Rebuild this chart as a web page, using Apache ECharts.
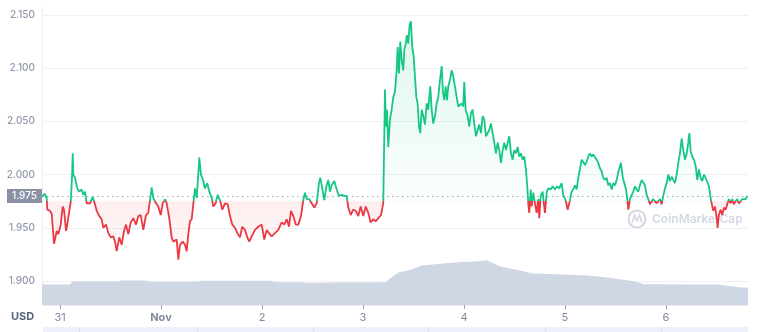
<!DOCTYPE html>
<html><head><meta charset="utf-8">
<script src="https://cdn.jsdelivr.net/npm/echarts@6/dist/echarts.min.js"></script>
<style>html,body{margin:0;padding:0;background:#fff}#c{width:761px;height:332px}</style>
</head><body><div id="c"></div>
<script>
// hours offset from Oct 31 00:00 (local)
const hours = [-4.28,-3.64,-3.16,-3.02,-2.38,-1.97,-1.43,-0.78,-0.40,0.17,0.64,0.95,1.43,1.73,2.21,2.54,2.85,3.02,3.16,3.56,4.11,4.59,5.16,5.54,5.94,6.34,7.13,7.77,8.32,8.72,9.34,9.91,10.29,10.93,11.48,12.05,12.67,13.07,13.47,14.09,14.66,15.21,15.68,16.23,16.80,17.42,18.06,18.61,19.18,19.79,20.44,20.98,21.39,21.79,22.17,22.81,23.36,23.93,24.40,24.95,25.35,25.97,26.54,26.92,27.73,28.11,28.51,29.16,29.70,30.11,30.49,30.89,
31.29,31.67,32.08,32.48,32.86,33.10,33.50,34.05,34.45,35.00,35.48,36.05,36.43,37.00,37.47,38.02,38.57,39.21,39.85,40.40,40.94,41.58,42.13,42.77,43.32,43.96,44.51,44.98,45.55,46.34,47.12,47.93,48.55,49.12,49.66,50.30,51.09,51.87,52.68,53.30,53.87,54.42,54.89,55.44,56.01,56.63,57.27,57.81,58.22,58.62,59.17,59.81,60.43,61.00,61.54,61.85,62.33,62.80,63.37,63.75,64.16,64.56,65.18,65.75,66.30,66.94,67.56,68.12,68.51,69.08,69.69,70.26,70.88,71.45,72.07,72.64,73.26,73.83,74.45,75.02,75.63,76.28,76.82,
77.23,77.46,77.70,78.01,78.41,78.82,79.20,79.60,80.01,80.24,80.55,80.86,81.19,81.57,81.81,82.15,82.45,82.76,83.09,83.40,83.71,84.05,84.36,84.67,84.99,85.31,85.61,85.95,86.33,86.73,87.14,87.52,87.99,88.33,88.70,89.11,89.51,89.89,90.30,90.70,91.01,91.32,91.65,91.96,92.27,92.67,93.08,93.46,93.86,94.26,94.65,95.05,95.45,95.83,96.07,96.40,96.88,97.26,97.66,98.07,98.45,98.85,99.25,99.63,100.04,100.44,100.82,101.23,101.63,102.01,102.41,102.82,103.20,103.60,104.01,104.39,104.79,105.20,105.58,105.98,106.38,106.77,107.17,107.57,107.95,108.36,108.76,109.14,109.55,109.95,110.33,110.73,111.04,111.28,111.52,111.85,112.09,112.47,
112.87,113.27,113.66,113.89,114.23,114.70,115.01,115.25,115.65,116.03,116.60,117.08,117.62,118.17,118.64,119.21,119.59,120.16,120.64,121.19,121.59,121.97,122.37,122.78,123.16,123.56,123.96,124.35,124.75,125.15,125.53,125.94,126.34,126.72,127.13,127.53,127.91,128.31,128.72,129.10,129.50,129.91,130.29,130.69,131.10,131.48,131.88,132.29,132.67,133.07,133.31,133.72,134.10,134.50,134.81,135.05,135.45,135.86,136.24,136.64,137.04,137.42,
137.82,138.23,138.61,139.01,139.42,139.80,140.20,140.61,140.99,141.39,141.80,142.18,142.58,142.98,143.36,143.76,144.17,144.55,144.95,145.36,145.74,146.14,146.55,146.93,147.33,147.74,148.12,148.52,148.93,149.31,149.55,149.88,150.26,150.67,151.07,151.45,151.84,152.24,152.62,153.03,153.43,153.81,154.22,154.62,154.86,155.24,155.64,156.05,156.28,156.59,156.99,157.38,157.78,158.18,158.56,158.97,159.37,159.75,160.16,160.56,160.94,161.34,161.75,162.13,162.53,162.94,163.32];

const prices = [1.979,1.982,1.978,1.967,1.966,1.963,1.935,1.947,1.944,1.953,1.970,1.967,1.947,1.953,1.966,1.974,1.997,2.020,2.000,1.997,1.987,1.984,1.986,1.981,1.984,1.973,1.973,1.979,1.972,1.966,1.961,1.958,1.950,1.953,1.945,1.941,1.942,1.937,1.928,1.941,1.934,1.947,1.953,1.944,1.955,1.959,1.953,1.961,1.962,1.948,1.962,1.964,1.976,1.988,1.978,1.973,1.970,1.962,1.973,1.977,1.973,1.959,1.941,1.937,1.939,1.920,1.934,1.937,1.934,1.928,1.944,1.956,
1.958,1.972,1.987,1.978,2.000,2.016,2.000,1.994,1.987,1.992,1.984,1.978,1.970,1.973,1.981,1.976,1.967,1.973,1.972,1.961,1.953,1.950,1.945,1.941,1.951,1.948,1.941,1.937,1.942,1.948,1.951,1.953,1.939,1.948,1.945,1.942,1.945,1.948,1.955,1.953,1.958,1.951,1.966,1.961,1.953,1.953,1.961,1.976,1.983,1.977,1.977,1.973,1.969,1.973,1.992,1.997,1.987,1.976,1.990,1.995,1.984,1.990,1.994,1.986,1.980,1.981,1.980,1.980,1.969,1.962,1.967,1.966,1.961,1.970,1.961,1.970,1.964,1.955,1.958,1.956,1.959,1.962,1.973,
2.080,2.045,2.061,2.026,2.052,2.061,2.073,2.078,2.098,2.120,2.095,2.125,2.108,2.098,2.117,2.123,2.131,2.123,2.141,2.144,2.120,2.111,2.092,2.073,2.067,2.045,2.039,2.061,2.055,2.047,2.067,2.061,2.083,2.061,2.048,2.055,2.067,2.073,2.089,2.102,2.077,2.070,2.083,2.070,2.083,2.089,2.098,2.092,2.083,2.073,2.064,2.064,2.067,2.064,2.087,2.061,2.055,2.045,2.058,2.061,2.048,2.036,2.042,2.047,2.039,2.055,2.052,2.036,2.036,2.042,2.048,2.039,2.030,2.020,2.030,2.023,2.011,2.023,2.030,2.023,2.030,2.036,2.020,2.014,2.023,2.020,2.026,2.017,2.020,2.014,2.017,2.005,1.989,1.973,1.964,1.986,1.970,1.983,
1.973,1.964,1.977,1.959,1.980,1.984,1.972,1.964,1.983,1.987,1.986,1.989,1.986,1.989,1.987,1.992,1.981,1.976,1.967,1.976,1.984,1.986,1.990,1.986,1.997,2.005,2.014,2.012,2.009,2.012,2.017,2.020,2.017,2.019,2.019,2.014,2.011,2.006,2.003,1.997,1.995,1.997,1.990,1.992,1.986,1.992,1.990,1.995,2.002,2.008,2.011,1.998,1.992,1.986,1.977,1.967,1.977,1.981,1.984,1.989,1.986,1.984,
1.990,1.995,1.994,1.990,1.981,1.977,1.972,1.973,1.977,1.975,1.973,1.975,1.977,1.972,1.980,1.987,1.992,2.000,1.994,1.998,1.995,1.992,2.000,2.011,2.020,2.034,2.023,2.014,2.020,2.030,2.039,2.022,2.017,2.014,2.008,1.995,2.005,1.997,1.994,2.000,1.997,1.998,1.989,1.978,1.973,1.966,1.970,1.959,1.950,1.962,1.967,1.962,1.969,1.967,1.972,1.977,1.973,1.977,1.972,1.975,1.977,1.973,1.975,1.977,1.978,1.977,1.980];

// volume (M USD) at hour offsets
const volHours = [-4.28,2.38,2.85,13.78,14.26,20.44,21.39,32.55,33.50,49.90,51.09,57.74,58.22,58.69,77.46,77.94,79.13,80.55,82.93,86.02,90.53,94.81,99.33,101.46,102.65,104.79,109.07,112.39,117.86,125.46,129.98,136.39,138.77,156.12,159.44,161.58,163.49];
const volumes = [206,206,237,237,247,247,234,234,244,244,230,230,224,230,230,250,290,330,350,398,415,431,441,451,425,385,350,317,310,297,277,240,209,206,189,176,176];

const baseline = 1.975;
const yTicks = [1.900, 1.950, 2.000, 2.050, 2.100, 2.150];

const H = 3600000;
const base = new Date(2021, 9, 31, 0, 0, 0).getTime();
const priceData = hours.map((h, i) => [base + h * H, prices[i]]);
const volData = volHours.map((h, i) => [base + h * H, volumes[i]]);
const xMin = base - 4.28 * H, xMax = base + 163.5 * H;
const yMin = yTicks[0], yMax = yTicks[yTicks.length - 1];
const GTOP = 15, GBOT = 281;
const split = (yMax - baseline) / (yMax - yMin);

const chart = echarts.init(document.getElementById('c'), null, {renderer: 'canvas'});
const font = 'Inter, "Noto Sans", sans-serif';
chart.setOption({
  animation: false,
  textStyle: {fontFamily: font},
  grid: [
    {left: 42, right: 13, top: GTOP, bottom: 332 - GBOT},
    {left: 42, right: 13, top: 7, bottom: 27}
  ],
  xAxis: [
    {type: 'time', gridIndex: 0, min: xMin, max: xMax, show: false},
    {type: 'time', gridIndex: 1, min: xMin, max: xMax,
     minInterval: 24 * H, maxInterval: 24 * H,
     axisLine: {show: true, lineStyle: {color: '#e9ecf2'}},
     axisTick: {show: true, length: 4, lineStyle: {color: '#9aa1b3'}},
     splitLine: {show: false},
     axisLabel: {color: '#808a9d', fontSize: 11, margin: 7, showMinLabel: false, showMaxLabel: false, fontFamily: font}}
  ],
  yAxis: [
    {type: 'value', gridIndex: 0, min: yMin, max: yMax, interval: 0.05,
     axisLine: {show: false}, axisTick: {show: false},
     splitLine: {lineStyle: {color: '#eef0f4', width: 1}},
     axisLabel: {formatter: v => v.toFixed(3), color: '#9097ab', fontSize: 10, fontWeight: 500, margin: 7, fontFamily: font}},
    {type: 'value', gridIndex: 1, min: 0, max: 3000, show: true,
     axisLine: {show: true, lineStyle: {color: '#eceef3'}}, axisTick: {show: false},
     axisLabel: {show: false}, splitLine: {show: false}}
  ],
  series: [
    {type: 'line', xAxisIndex: 0, yAxisIndex: 0, data: priceData, symbol: 'none', z: 5,
     lineStyle: {width: 1.8, color: {type: 'linear', x: 0, y: GTOP, x2: 0, y2: GBOT, global: true,
       colorStops: [
         {offset: 0, color: '#16c784'}, {offset: split, color: '#16c784'},
         {offset: split, color: '#ea3943'}, {offset: 1, color: '#ea3943'}]}},
     areaStyle: {origin: baseline, color: {type: 'linear', x: 0, y: GTOP, x2: 0, y2: GBOT, global: true,
       colorStops: [
         {offset: 0, color: 'rgba(22,199,132,0.22)'},
         {offset: split, color: 'rgba(22,199,132,0.02)'},
         {offset: split, color: 'rgba(234,57,67,0.13)'},
         {offset: 0.95, color: 'rgba(234,57,67,0.01)'}]}},
     markLine: {silent: true, symbol: 'none', animation: false,
       data: [{yAxis: baseline}],
       lineStyle: {color: '#a2a8b8', type: [1.5, 3.5], width: 1},
       label: {position: 'start', formatter: baseline.toFixed(3), color: '#fff', backgroundColor: '#8a91a5',
               padding: [2, 5, 2, 5], fontSize: 10, fontWeight: 500, distance: 0, fontFamily: font},
       emphasis: {disabled: true}}
    },
    {type: 'line', xAxisIndex: 1, yAxisIndex: 1, data: volData, symbol: 'none', z: 1,
     lineStyle: {width: 0}, areaStyle: {color: '#cfd6e4', opacity: 1}}
  ],
  graphic: [
    {type: 'text', left: 11, top: 311, style: {text: 'USD', fill: '#58667e', font: 'bold 11px ' + font}},
    {type: 'rect', shape: {x: 43, y: 327, width: 705, height: 5}, style: {fill: '#eef1fb'}},
    {type: 'group', children: [79, 197, 313, 428, 545, 661].map(x => ({type: 'rect', shape: {x: x, y: 327, width: 1, height: 5}, style: {fill: '#dbe1f1'}}))},
    {type: 'circle', shape: {cx: 637, cy: 219, r: 8.5}, style: {fill: 'none', stroke: '#d3d8e3', lineWidth: 2}, z: 0},
    {type: 'polyline', shape: {points: [[632, 223], [634.5, 215], [637, 221], [639.5, 215], [642, 223]]}, style: {fill: 'none', stroke: '#d3d8e3', lineWidth: 1.6}, z: 0},
    {type: 'text', left: 652, top: 213, z: 0, style: {text: 'CoinMarketCap', fill: '#d3d8e3', font: '600 12px ' + font}}
  ]
});
</script></body></html>
